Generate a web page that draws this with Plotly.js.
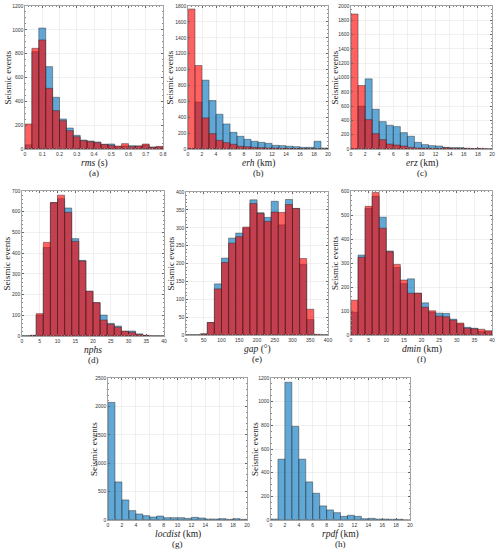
<!DOCTYPE html>
<html><head><meta charset="utf-8">
<script src="https://cdn.plot.ly/plotly-3.0.1.min.js"></script>
<style>body{margin:0;background:#fff}#c{width:500px;height:552px}</style>
</head><body><div id="c"></div>
<script>
// bin settings: start, width (20 bins each)
const rmsBins = {start:0, size:0.04};
const rmsBlue = [35,817,1015,691,434,252,176,115,75,67,59,39,42,20,25,28,25,34,17,17];
const rmsRed  = [210,845,915,509,322,238,154,103,70,62,53,39,31,25,45,20,25,42,14,22];

const erhBins = {start:0, size:1};
const erhBlue = [8,589,866,610,437,315,210,160,122,97,84,71,46,42,34,29,21,21,97,13];
const erhRed  = [1762,1051,391,193,109,80,59,34,29,21,17,13,13,8,8,6,4,4,4,2];

const erzBins = {start:0, size:1};
const erzBlue = [5,598,981,556,383,332,313,229,178,93,61,47,42,23,19,19,9,5,3,0];
const erzRed  = [1888,888,411,215,131,70,56,42,23,14,14,9,9,19,9,9,9,5,9,0];

const nphsBins = {start:0, size:2};
const nphsBlue = [0,3,101,427,644,663,618,470,365,216,161,101,61,48,23,24,10,3,0,0];
const nphsRed  = [0,3,108,452,644,680,597,457,362,216,161,77,56,42,23,18,8,3,0,0];

const gapBins = {start:0, size:20};
const gapBlue = [0,0,3,35,143,215,271,285,299,378,342,329,374,308,379,354,197,43,0,0];
const gapRed  = [0,0,3,35,129,203,257,275,302,368,340,318,344,343,365,354,214,72,2,0];

const dminBins = {start:0, size:2};
const dminBlue = [94,333,527,578,491,350,281,214,234,174,134,95,91,90,66,46,32,28,14,14];
const dminRed  = [145,324,536,594,445,347,294,229,174,174,116,101,79,76,62,50,28,26,24,18];

const locdistBins = {start:0, size:1};
const locdistBlue = [2070,670,353,165,106,76,53,70,41,41,41,29,47,35,18,18,24,12,24,12];

const rpdfBins = {start:0, size:1};
const rpdfBlue = [8,514,1164,791,514,322,226,119,85,62,31,40,31,11,14,8,8,6,6,0];

const panels = [
  {bins:rmsBins, blue:rmsBlue, red:rmsRed, xr:[0,0.8], xd:0.1, yr:[0,1200], yd:200, var:'rms', unit:' (s)', lab:'(a)', px:[25,163], py:[6,149], ty:7},
  {bins:erhBins, blue:erhBlue, red:erhRed, xr:[0,20], xd:2, yr:[0,1800], yd:200, var:'erh', unit:' (km)', lab:'(b)', px:[188,328], py:[6,149], ty:169},
  {bins:erzBins, blue:erzBlue, red:erzRed, xr:[0,20], xd:2, yr:[0,2000], yd:200, var:'erz', unit:' (km)', lab:'(c)', px:[351,492], py:[6,149], ty:334},
  {bins:nphsBins, blue:nphsBlue, red:nphsRed, xr:[0,40], xd:5, yr:[0,700], yd:100, var:'nphs', unit:'', lab:'(d)', px:[22,164], py:[191,336], ty:6},
  {bins:gapBins, blue:gapBlue, red:gapRed, xr:[0,400], xd:50, yr:[0,400], yd:50, var:'gap', unit:' (°)', lab:'(e)', px:[186,328], py:[192,335], ty:170},
  {bins:dminBins, blue:dminBlue, red:dminRed, xr:[0,40], xd:5, yr:[0,600], yd:100, var:'dmin', unit:' (km)', lab:'(f)', px:[351,492], py:[191,335], ty:335},
  {bins:locdistBins, blue:locdistBlue, red:null, xr:[0,20], xd:2, yr:[0,2500], yd:500, var:'locdist', unit:' (km)', lab:'(g)', px:[108,247], py:[378,520], ty:94},
  {bins:rpdfBins, blue:rpdfBlue, red:null, xr:[0,20], xd:2, yr:[0,1200], yd:200, var:'rpdf', unit:' (km)', lab:'(h)', px:[271,410], py:[378,520], ty:255}
];

const W=500, H=552;
const traces=[]; const layout={width:W,height:H,margin:{l:0,r:0,t:0,b:0},showlegend:false,barmode:'overlay',
  paper_bgcolor:'#fff',plot_bgcolor:'#fff',annotations:[]};
const serif='"Liberation Serif", "DejaVu Serif", serif';
panels.forEach((p,i)=>{
  const n=i+1; const xa='x'+(n===1?'':n), ya='y'+(n===1?'':n);
  const centers=p.blue.map((_,k)=>p.bins.start+p.bins.size*(k+0.5));
  const edge={color:'rgba(40,40,40,0.75)',width:0.6};
  traces.push({type:'bar',x:centers,y:p.blue,width:p.bins.size,xaxis:xa,yaxis:ya,
    marker:{color:'rgba(0,114,189,0.62)',line:edge}});
  if(p.red) traces.push({type:'bar',x:centers,y:p.red,width:p.bins.size,xaxis:xa,yaxis:ya,
    marker:{color:'rgba(255,0,0,0.62)',line:edge}});
  const axCommon={showline:true,linecolor:'#666',linewidth:0.6,mirror:'ticks',ticks:'inside',ticklen:2,tickcolor:'#666',
    gridcolor:'#e6e6e6',gridwidth:0.6,zeroline:false,tickfont:{size:5,color:'#333',family:'"Liberation Sans", Arial, sans-serif'},
    minor:{ticks:'inside',ticklen:1,tickcolor:'#888'}};
  layout['xaxis'+(n===1?'':n)]=Object.assign({},axCommon,{domain:[p.px[0]/W,p.px[1]/W],anchor:ya,range:p.xr,dtick:p.xd,tick0:0,ticklabelstandoff:0});
  layout['yaxis'+(n===1?'':n)]=Object.assign({},axCommon,{domain:[1-p.py[1]/H,1-p.py[0]/H],anchor:xa,range:p.yr,dtick:p.yd,tick0:0});
  const cx=(p.px[0]+p.px[1])/2/W;
  layout.annotations.push({text:'<i>'+p.var+'</i>'+p.unit,xref:'paper',yref:'paper',x:cx,y:1-(p.py[1]+7.5)/H,
    xanchor:'center',yanchor:'top',showarrow:false,borderpad:0,font:{family:serif,size:9.5,color:'#222'}});
  layout.annotations.push({text:'Seismic events',xref:'paper',yref:'paper',x:p.ty/W,y:1-(p.py[0]+p.py[1])/2/H,
    textangle:-90,xanchor:'center',yanchor:'middle',showarrow:false,borderpad:0,font:{family:serif,size:9,color:'#222'}});
  layout.annotations.push({text:p.lab,xref:'paper',yref:'paper',x:cx,y:1-(p.py[1]+18)/H,
    xanchor:'center',yanchor:'top',showarrow:false,borderpad:0,font:{family:serif,size:9,color:'#222'}});
});
Plotly.newPlot('c',traces,layout,{staticPlot:true});
</script></body></html>
